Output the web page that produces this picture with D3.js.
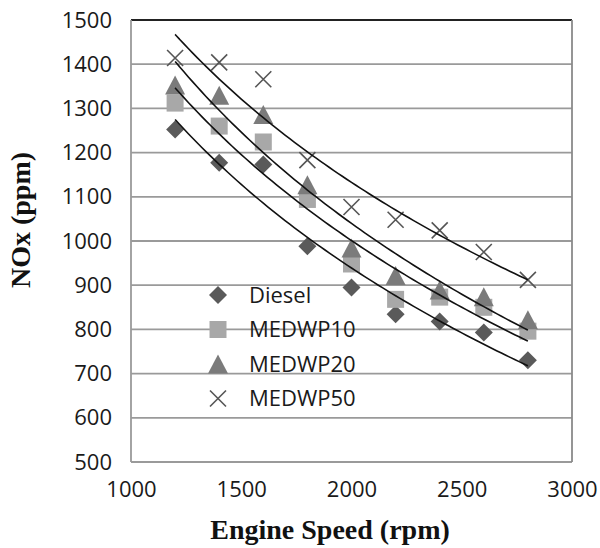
<!DOCTYPE html>
<html>
<head>
<meta charset="utf-8">
<script src="https://cdn.jsdelivr.net/npm/d3@7"></script>
<style>
  body { margin: 0; background: #fff; }
  svg { display: block; }
</style>
</head>
<body>
<div id="chart"></div>
<script>
// engine speed (rpm)
var speeds = [1200, 1400, 1600, 1800, 2000, 2200, 2400, 2600, 2800];

// NOx (ppm)
var diesel  = [1252, 1177, 1173, 988, 895, 834, 818, 793, 730];
var medwp10 = [1312, 1260, 1224, 1094, 948, 868, 873, 850, 796];
var medwp20 = [1353, 1330, 1286, 1127, 984, 922, 889, 874, 822];
var medwp50 = [1414, 1404, 1366, 1183, 1077, 1048, 1024, 975, 912];

var seriesNames = ['Diesel', 'MEDWP10', 'MEDWP20', 'MEDWP50'];
var xTicks = [1000, 1500, 2000, 2500, 3000];
var yTicks = [500, 600, 700, 800, 900, 1000, 1100, 1200, 1300, 1400, 1500];

var W = 600, H = 548;
var plotLeft = 131, plotRight = 572, plotTop = 20, plotBottom = 462;

var svg = d3.select('#chart')
  .append('svg')
  .attr('width', W)
  .attr('height', H);

svg.append('rect').attr('width', W).attr('height', H).attr('fill', '#fff');

var x = d3.scaleLinear().domain([1000, 3000]).range([plotLeft, plotRight]);
var y = d3.scaleLinear().domain([500, 1500]).range([plotBottom, plotTop]);

// gridlines
svg.selectAll('.grid')
  .data(yTicks)
  .enter()
  .append('line')
    .classed('grid', 1)
    .attr('x1', plotLeft).attr('x2', plotRight)
    .attr('y1', function(d){ return y(d); })
    .attr('y2', function(d){ return y(d); })
    .attr('stroke', function(d){ return d === 1500 ? '#222' : '#9a9a9a'; })
    .attr('stroke-width', function(d){ return d === 1500 ? 2 : 1.8; });

// frame
svg.append('line').attr('x1', plotLeft).attr('x2', plotLeft).attr('y1', plotTop).attr('y2', plotBottom)
  .attr('stroke', '#9a9a9a').attr('stroke-width', 1.8);
svg.append('line').attr('x1', plotRight).attr('x2', plotRight).attr('y1', plotTop).attr('y2', plotBottom)
  .attr('stroke', '#8a8a8a').attr('stroke-width', 1.8);

// axes (labels only)
var yAxis = svg.append('g')
  .attr('transform', 'translate(' + plotLeft + ',0)')
  .call(d3.axisLeft(y).tickValues(yTicks).tickSize(0).tickPadding(19).tickFormat(d3.format('d')));
var xAxis = svg.append('g')
  .attr('transform', 'translate(0,' + plotBottom + ')')
  .call(d3.axisBottom(x).tickValues(xTicks).tickSize(0).tickPadding(19).tickFormat(d3.format('d')));
[yAxis, xAxis].forEach(function(g){
  g.select('.domain').remove();
  g.selectAll('text')
    .attr('font-family', '"Open Sans", sans-serif')
    .attr('font-size', 22)
    .attr('fill', '#1a1a1a');
});

// axis titles
svg.append('text')
  .attr('x', 330).attr('y', 539)
  .attr('text-anchor', 'middle')
  .attr('font-family', '"Liberation Serif", "Times New Roman", serif')
  .attr('font-weight', 'bold')
  .attr('font-size', 28)
  .attr('fill', '#111')
  .text('Engine Speed (rpm)');

svg.append('text')
  .attr('transform', 'translate(30,220) rotate(-90)')
  .attr('text-anchor', 'middle')
  .attr('font-family', '"Liberation Serif", "Times New Roman", serif')
  .attr('font-weight', 'bold')
  .attr('font-size', 28)
  .attr('fill', '#111')
  .text('NOx (ppm)');

// marker shapes
var markers = {
  Diesel:  { fill: '#5a5a5a', path: function(){ var r = 9; return 'M0,' + (-r) + 'L' + r + ',0L0,' + r + 'L' + (-r) + ',0Z'; } },
  MEDWP10: { fill: '#a8a8a8', path: function(){ var s = 8.5; return 'M' + (-s) + ',' + (-s) + 'H' + s + 'V' + s + 'H' + (-s) + 'Z'; } },
  MEDWP20: { fill: '#7b7b7b', path: function(){ var w = 10, h = 9.5; return 'M0,' + (-h) + 'L' + w + ',' + h + 'L' + (-w) + ',' + h + 'Z'; } },
  MEDWP50: { fill: 'none', stroke: '#555', path: function(){ var r = 8; return 'M' + (-r) + ',' + (-r) + 'L' + r + ',' + r + 'M' + r + ',' + (-r) + 'L' + (-r) + ',' + r; } }
};

var allSeries = [diesel, medwp10, medwp20, medwp50];

// logarithmic trendlines (y = a ln x + b) fitted from each series
function logFit(xs, ys) {
  var lx = xs.map(Math.log);
  var mx = d3.mean(lx), my = d3.mean(ys);
  var a = d3.sum(lx, function(v, i){ return (v - mx) * (ys[i] - my); }) / d3.sum(lx, function(v){ return (v - mx) * (v - mx); });
  var b = my - a * mx;
  return function(v){ return a * Math.log(v) + b; };
}

var line = d3.line()
  .x(function(d){ return x(d[0]); })
  .y(function(d){ return y(d[1]); })
  .curve(d3.curveBasis);

// markers first, trendlines on top
allSeries.forEach(function(vals, k){
  var m = markers[seriesNames[k]];
  svg.selectAll('.pt' + k)
    .data(vals)
    .enter()
    .append('path')
      .classed('pt' + k, 1)
      .attr('transform', function(d, i){ return 'translate(' + x(speeds[i]) + ',' + y(d) + ')'; })
      .attr('d', m.path)
      .attr('fill', m.fill)
      .attr('stroke', m.stroke || 'none')
      .attr('stroke-width', 1.6);
});

allSeries.forEach(function(vals){
  var f = logFit(speeds, vals);
  var pts = d3.range(1200, 2801, 20).map(function(v){ return [v, f(v)]; });
  svg.append('path')
    .attr('d', line(pts))
    .attr('fill', 'none')
    .attr('stroke', '#111')
    .attr('stroke-width', 1.6);
});

// legend
var legend = svg.selectAll('.legend')
  .data(seriesNames)
  .enter()
  .append('g')
    .classed('legend', 1)
    .attr('transform', function(d, i){ return 'translate(218,' + (295 + i * 34.5) + ')'; });

legend.append('path')
  .attr('d', function(d){ return markers[d].path(); })
  .attr('fill', function(d){ return markers[d].fill; })
  .attr('stroke', function(d){ return markers[d].stroke || 'none'; })
  .attr('stroke-width', 1.6);

legend.append('text')
  .attr('x', 31)
  .attr('dy', '0.36em')
  .attr('font-family', '"Open Sans", sans-serif')
  .attr('font-size', 22)
  .attr('fill', '#1a1a1a')
  .text(function(d){ return d; });
</script>
</body>
</html>
